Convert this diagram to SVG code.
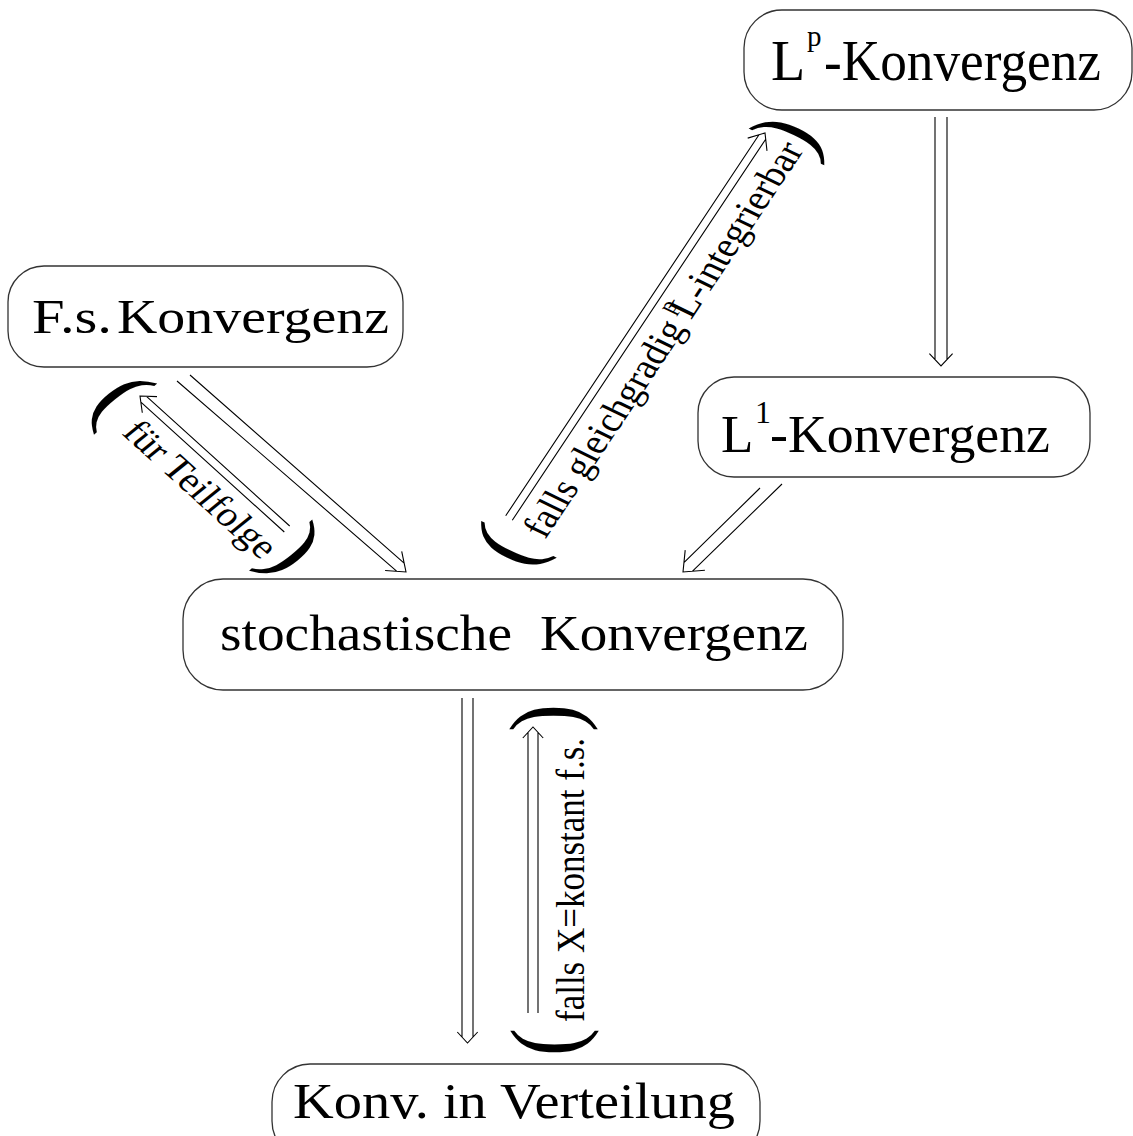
<svg xmlns="http://www.w3.org/2000/svg" width="1133" height="1136" viewBox="0 0 1133 1136">
<style>
.box{fill:#fff;stroke:#333;stroke-width:1.3}
.t{font-family:"Liberation Serif","Times New Roman",serif;fill:#000}
.arr{fill:none;stroke:#000;stroke-width:1.1;stroke-linejoin:miter}
</style>
<rect width="1133" height="1136" fill="#fff"/>
<g id="node-lp">
<rect class="box" x="744" y="10" width="388" height="100" rx="38"/>
<text class="t" font-size="56"><tspan x="771" y="80">L</tspan><tspan x="807" y="46" font-size="29">p</tspan><tspan x="824" y="80" textLength="277" lengthAdjust="spacingAndGlyphs">-Konvergenz</tspan></text>
</g>
<g id="node-fs">
<rect class="box" x="8" y="266" width="395" height="101" rx="36"/>
<text class="t" font-size="48"><tspan x="32" y="333" textLength="80" lengthAdjust="spacingAndGlyphs">F.s.</tspan> <tspan x="117" y="333" textLength="272" lengthAdjust="spacingAndGlyphs">Konvergenz</tspan></text>
</g>
<g id="node-l1">
<rect class="box" x="698" y="377" width="392" height="100" rx="36"/>
<text class="t" font-size="53"><tspan x="721" y="452">L</tspan><tspan x="755" y="423" font-size="32">1</tspan><tspan x="770" y="452" textLength="280" lengthAdjust="spacingAndGlyphs">-Konvergenz</tspan></text>
</g>
<g id="node-stoch">
<rect class="box" x="183" y="579" width="660" height="111" rx="40"/>
<text class="t" font-size="51"><tspan x="220" y="650" textLength="292" lengthAdjust="spacingAndGlyphs">stochastische</tspan> <tspan x="540" y="650" textLength="268" lengthAdjust="spacingAndGlyphs">Konvergenz</tspan></text>
</g>
<g id="node-vert">
<rect class="box" x="272" y="1064" width="488" height="95" rx="38"/>
<text class="t" font-size="50" x="293" y="1118" textLength="442" lengthAdjust="spacingAndGlyphs">Konv. in Verteilung</text>
</g>
<g id="connectors">
<path class="arr" d="M935,117 V359.6 M947,117 V359.6 M929.4,353.6 L941,366 L952.6,353.6"/>
<path class="arr" d="M462,698 V1037.1 M473,698 V1037.1 M457.3,1032 L467.5,1043 L477.7,1032"/>
<path class="arr" d="M528,1013 V732.4 M538,1013 V732.4 M522.8,738 L533,727 L543.2,738"/>
<path class="arr" d="M190,375 L404.1,563.1 M177,381 L396.9,571.3 M401.7,551.4 L406,572 L385.1,570.5"/>
<path class="arr" d="M289.7,526 L146.2,396.2 M284.3,532 L140.9,402.2 M142.3,412.8 L140,396 L157,396.6"/>
<path class="arr" d="M505.7,515.8 L759,134.8 M512.3,520.2 L765.7,139.2 M747.7,138.1 L765,133 L767,150.9"/>
<path class="arr" d="M760,488 L683.9,562.7 M782,484 L692.3,571.3 M685.2,550.1 L683,572 L704.9,570.3"/>
</g>
<g id="label-teilfolge" transform="translate(191,497) scale(1.17,1) rotate(46.6)">
<text class="t" font-size="82" x="-127" y="0">(</text>
<text class="t" font-size="35" x="0" y="0" text-anchor="middle">für Teilfolge</text>
<text class="t" font-size="82" x="85" y="-3">)</text>
</g>
<g id="label-gleichgradig" transform="translate(545,540) scale(1.17,1) rotate(-60.4)">
<text class="t" font-size="82" x="-35" y="0">(</text>
<text class="t" font-size="35" x="0" y="0">falls gleichgradig <tspan font-size="22" dx="-3" dy="-17">p</tspan><tspan dx="-8" dy="17">L-integrierbar</tspan></text>
<text class="t" font-size="82" x="441" y="5">)</text>
</g>
<g id="label-konstant" transform="translate(584,1022) scale(1.17,1) rotate(-90)">
<text class="t" font-size="84" x="-34" y="-5">(</text>
<text class="t" font-size="35" x="0" y="0">falls X=konstant f.s.</text>
<text class="t" font-size="84" x="290" y="-6">)</text>
</g>
</svg>
